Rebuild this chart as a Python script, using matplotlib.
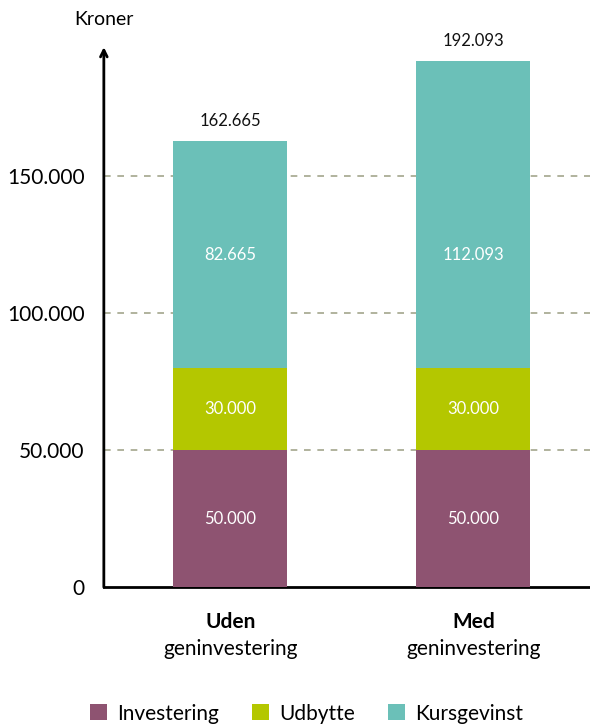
import matplotlib.pyplot as plt
import matplotlib.transforms as mtransforms

plt.rcParams['font.family'] = ['Lato', 'DejaVu Sans']

groups = ['Uden', 'Med']
group_sub = ['geninvestering', 'geninvestering']
series = ['Investering', 'Udbytte', 'Kursgevinst']
investering = [50000, 50000]
udbytte = [30000, 30000]
kursgevinst = [82665, 112093]
totals = [162665, 192093]
colors = ['#8E5371', '#B4C700', '#6BC0B8']
yticks = [0, 50000, 100000, 150000]


def fmt(v):
    return f'{v:,}'.replace(',', '.')


fig = plt.figure(figsize=(5.9, 7.25), dpi=100)
ax = fig.add_axes([0.176, 0.19, 0.824, 0.745])

x = [0, 1]
width = 0.47
bottom = [0, 0]
for name, vals, c in zip(series, [investering, udbytte, kursgevinst], colors):
    ax.bar(x, vals, width, bottom=bottom, color=c, label=name, zorder=3)
    for xi, b, v in zip(x, bottom, vals):
        # top segment labels sit at the same height in both bars
        ypos = b + min(vals) / 2 if name == 'Kursgevinst' else b + v / 2
        ax.text(xi, ypos, fmt(v), ha='center', va='center', color='white',
                fontsize=12, zorder=4)
    bottom = [b + v for b, v in zip(bottom, vals)]

for xi, t in zip(x, totals):
    ax.text(xi, t + 4300, fmt(t), ha='center', va='bottom', fontsize=12, color='#111111')

ax.set_xlim(-0.52, 1.48)
ax.set_ylim(0, 197000)
ax.set_yticks(yticks)
ax.set_yticklabels([fmt(v) for v in yticks], fontsize=15)
ax.tick_params(axis='y', length=0, pad=14)
ax.tick_params(axis='x', length=0)
ax.set_xticks([])
for v in yticks[1:]:
    ax.axhline(v, color='#A3A68C', lw=1.2, ls=(0, (4, 4)), zorder=1)

for s in ['top', 'right', 'left']:
    ax.spines[s].set_visible(False)
ax.spines['bottom'].set_linewidth(2)
ax.annotate('', xy=(0, 1.0), xycoords='axes fraction', xytext=(0, 0),
            textcoords='axes fraction',
            arrowprops=dict(arrowstyle='->', lw=2, color='black',
                            shrinkA=0, shrinkB=0, mutation_scale=12))
ax.text(0, 1.035, 'Kroner', transform=ax.transAxes, ha='center', va='bottom', fontsize=14)

trans = mtransforms.blended_transform_factory(ax.transData, ax.transAxes)
for xi, g, s in zip(x, groups, group_sub):
    ax.text(xi, -0.065, g, transform=trans, ha='center', va='center', fontsize=15, fontweight='bold')
    ax.text(xi, -0.115, s, transform=trans, ha='center', va='center', fontsize=15)

fig.legend(loc='lower center', bbox_to_anchor=(0.52, -0.024), ncol=3, frameon=False,
           fontsize=15, handlelength=0.8, handleheight=0.8, columnspacing=1.6, handletextpad=0.5)

fig.savefig('out.png', dpi=100)
